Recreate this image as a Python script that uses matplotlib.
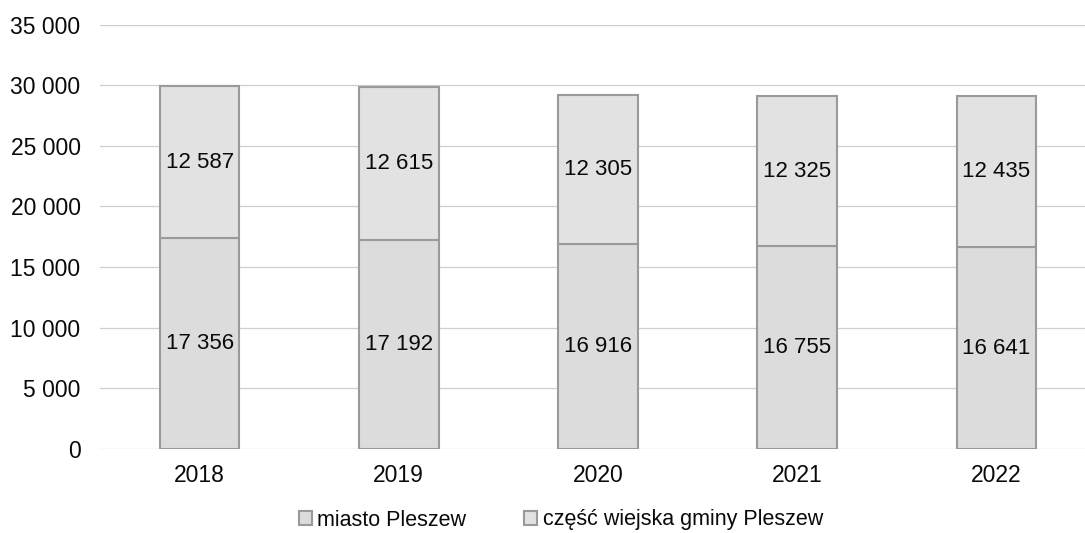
import matplotlib
matplotlib.use("Agg")
import matplotlib.pyplot as plt
from matplotlib.ticker import FuncFormatter

years = ["2018", "2019", "2020", "2021", "2022"]
miasto = [17356, 17192, 16916, 16755, 16641]
wiejska = [12587, 12615, 12305, 12325, 12435]
series_names = ["miasto Pleszew", "część wiejska gminy Pleszew"]

plt.rcParams['font.family'] = ['Liberation Sans', 'DejaVu Sans']

fig = plt.figure(figsize=(10.85, 5.33), dpi=100)
W, H = 1085, 533
ax = fig.add_axes([100 / W, (H - 449) / H, 996 / W, 424.5 / H])

x = list(range(len(years)))
fill = '#dcdcdc'
edge = '#9a9a9a'
bw = 0.40
b1 = ax.bar(x, miasto, width=bw, color=fill, edgecolor=edge, linewidth=1.5,
            label=series_names[0], zorder=3)
b2 = ax.bar(x, wiejska, width=bw, bottom=miasto, color='#e2e2e2', edgecolor=edge,
            linewidth=1.5, label=series_names[1], zorder=3)

fmt = lambda v: f"{int(v):,}".replace(",", " ")
for i in x:
    ax.text(i, miasto[i] / 2, fmt(miasto[i]), ha='center', va='center',
            fontsize=16, color='#0a0a0a', zorder=4)
    ax.text(i, miasto[i] + wiejska[i] / 2, fmt(wiejska[i]), ha='center', va='center',
            fontsize=16, color='#0a0a0a', zorder=4)

ax.set_xlim(-0.5, 4.5)
ax.set_ylim(0, 35000)
ax.set_yticks(range(0, 35001, 5000))
ax.yaxis.set_major_formatter(FuncFormatter(lambda v, p: fmt(v)))
ax.set_xticks(x)
ax.set_xticklabels(years)
ax.tick_params(axis='both', length=0, labelsize=16.5, colors='#0a0a0a')
ax.tick_params(axis='y', pad=14)
ax.tick_params(axis='x', pad=11)
ax.grid(axis='y', color='#cfcfcf', linewidth=0.9, zorder=0)
for s in ax.spines.values():
    s.set_visible(False)

leg = fig.legend(handles=[b1, b2], labels=series_names, loc='center',
                 bbox_to_anchor=(561 / W, (H - 520) / H), ncol=2, frameon=False,
                 fontsize=15.5, handlelength=0.6, handleheight=0.6,
                 handletextpad=0.25, columnspacing=2.7)
for t in leg.get_texts():
    t.set_color('#0a0a0a')

fig.savefig("out.png", dpi=100)
